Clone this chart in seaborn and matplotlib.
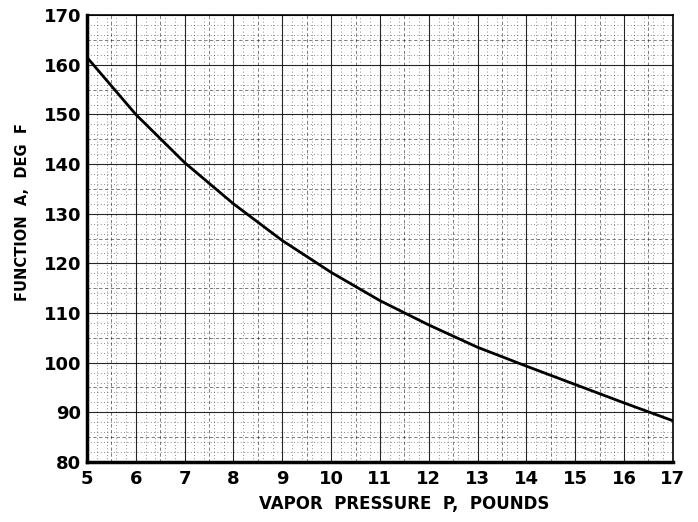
import numpy as np
import pandas as pd
import matplotlib
matplotlib.use("Agg")
import matplotlib.pyplot as plt
from matplotlib.ticker import MultipleLocator
import seaborn as sns

# values
pressure = [5, 6, 7, 8, 9, 10, 11, 12, 13, 14, 15, 16, 17]
function_a = [161.5, 150.0, 140.3, 132.0, 124.6, 118.2, 112.5, 107.6, 103.1, 99.3, 95.6, 91.9, 88.3]
x_ticks = list(range(5, 18))
y_ticks = list(range(80, 171, 10))

df = pd.DataFrame({"P": pressure, "A": function_a})

sns.set_style("white")
plt.rcParams["font.family"] = ["DejaVu Sans"]
plt.rcParams["text.color"] = "black"
plt.rcParams["xtick.color"] = "black"
plt.rcParams["ytick.color"] = "black"
plt.rcParams["axes.labelcolor"] = "black"

fig = plt.figure(figsize=(6.98, 5.22), dpi=100)
ax = fig.add_axes([0.1246, 0.115, 0.8394, 0.856])

sns.lineplot(data=df, x="P", y="A", ax=ax, color="black", linewidth=2.0)

ax.set_xlim(5, 17)
ax.set_ylim(80, 170)
ax.set_xticks(x_ticks)
ax.set_yticks(y_ticks)
ax.xaxis.set_minor_locator(MultipleLocator(0.2))
ax.yaxis.set_minor_locator(MultipleLocator(2))

ax.grid(which="major", color="black", linewidth=0.8, linestyle="-", alpha=0.85)
ax.grid(which="minor", color="black", linewidth=0.6, linestyle=(0, (1, 3)), alpha=0.6)
for v in np.arange(5.5, 17, 1):
    ax.axvline(v, color="black", linewidth=0.6, linestyle=(0, (4, 3)), alpha=0.6, zorder=0)
for v in range(85, 170, 10):
    ax.axhline(v, color="black", linewidth=0.6, linestyle=(0, (4, 3)), alpha=0.6, zorder=0)

for side in ["left", "bottom"]:
    ax.spines[side].set_linewidth(2.5)
for side in ["top", "right"]:
    ax.spines[side].set_linewidth(1.2)
for s in ax.spines.values():
    s.set_color("black")

ax.tick_params(which="both", length=0)
ax.tick_params(axis="x", pad=6)
ax.tick_params(axis="y", pad=4)
for lab in ax.get_xticklabels() + ax.get_yticklabels():
    lab.set_fontsize(13)
    lab.set_fontweight("bold")
    lab.set_color("black")

ax.set_xlabel("VAPOR  PRESSURE  P,  POUNDS", fontsize=12, fontweight="bold", color="black")
ax.set_ylabel("FUNCTION  A,  DEG  F", fontsize=10.5, fontweight="bold", color="black")
ax.xaxis.set_label_coords(0.541, -0.074)
ax.yaxis.set_label_coords(-0.097, 0.56)

fig.savefig("out.png", dpi=100)
